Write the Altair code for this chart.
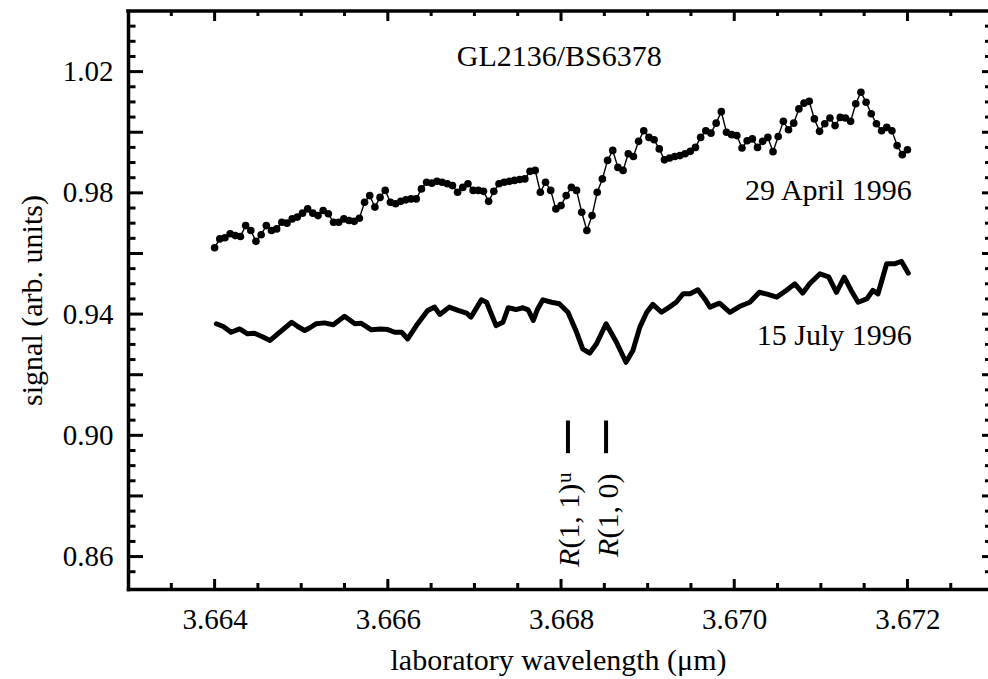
import altair as alt
import numpy as np
import pandas as pd

# ---------------- data ----------------
# 29 April 1996 (points joined by a thin line), evenly sampled 3.664 .. 3.672 um
april_signal = [
    0.9619, 0.9648, 0.9652, 0.9665, 0.9659, 0.9656, 0.9692, 0.9676, 0.9640, 0.9662,
    0.9692, 0.9676, 0.9681, 0.9703, 0.9700, 0.9714, 0.9720, 0.9733, 0.9747, 0.9733,
    0.9725, 0.9742, 0.9731, 0.9703, 0.9703, 0.9714, 0.9709, 0.9706, 0.9716, 0.9769,
    0.9791, 0.9753, 0.9785, 0.9808, 0.9769,
    0.9764, 0.9772, 0.9777, 0.9780, 0.9780, 0.9813, 0.9835, 0.9832, 0.9838, 0.9835,
    0.9830, 0.9824, 0.9802, 0.9818, 0.9830, 0.9808, 0.9808, 0.9805, 0.9772, 0.9805,
    0.9830, 0.9835, 0.9838, 0.9841, 0.9844, 0.9846, 0.9871, 0.9874, 0.9802, 0.9835,
    0.9808, 0.9747, 0.9758, 0.9791, 0.9818, 0.9808, 0.9736, 0.9676, 0.9725, 0.9802,
    0.9846, 0.9907, 0.9940,
    0.9884, 0.9874, 0.9929, 0.9920, 0.9970, 1.0005, 0.9983, 0.9975, 0.9945, 0.9909,
    0.9915, 0.9920, 0.9923, 0.9929, 0.9937, 0.9950, 0.9983, 1.0005, 0.9997, 1.0030,
    1.0068, 1.0000, 0.9992, 0.9989, 0.9948, 0.9972, 0.9978, 0.9950, 0.9970, 0.9983,
    0.9936, 0.9986, 1.0036, 1.0008, 1.0030, 1.0077, 1.0096, 1.0102, 1.0044, 1.0003,
    1.0028, 1.0047, 1.0022, 1.0049,
    1.0047, 1.0036, 1.0094, 1.0132, 1.0099, 1.0061, 1.0028, 1.0005, 1.0016, 1.0005,
    0.9956, 0.9926, 0.9942,
]
april_start, april_end = 3.664, 3.672
april_wavelength = np.linspace(april_start, april_end, len(april_signal))

# 15 July 1996 (thick line)
july_wavelength = [
    3.66402, 3.66410, 3.66419, 3.66429, 3.66438, 3.66446, 3.66454, 3.66464, 3.66475, 3.66489,
    3.66496, 3.66504, 3.66510, 3.66517, 3.66527, 3.66537, 3.66550, 3.66562, 3.66569, 3.66581,
    3.66592, 3.66600, 3.66608, 3.66616, 3.66623, 3.66633, 3.66646, 3.66654, 3.66660, 3.66671,
    3.66681, 3.66691, 3.66696, 3.66708, 3.66714, 3.66725, 3.66733, 3.66739, 3.66748, 3.66756,
    3.66762, 3.66768, 3.66773, 3.66779, 3.66789, 3.66798, 3.66808, 3.66818, 3.66825, 3.66833,
    3.66841, 3.66852, 3.66864, 3.66875, 3.66883, 3.66891, 3.66899, 3.66906, 3.66916, 3.66925,
    3.66933, 3.66941, 3.66949, 3.66958, 3.66966, 3.66972, 3.66983, 3.66995, 3.67006, 3.67018,
    3.67029, 3.67039, 3.67049, 3.67060, 3.67070, 3.67079, 3.67087, 3.67099, 3.67109, 3.67118,
    3.67127, 3.67135, 3.67143, 3.67153, 3.67160, 3.67166, 3.67176, 3.67185, 3.67193, 3.67201,
]
july_signal = [
    0.9368, 0.9359, 0.9340, 0.9351, 0.9335, 0.9337, 0.9327, 0.9313, 0.9340, 0.9373,
    0.9359, 0.9346, 0.9355, 0.9368, 0.9371, 0.9365, 0.9393, 0.9368, 0.9370, 0.9348,
    0.9351, 0.9349, 0.9340, 0.9340, 0.9318, 0.9362, 0.9412, 0.9423, 0.9399, 0.9423,
    0.9412, 0.9403, 0.9390, 0.9447, 0.9439, 0.9362, 0.9373, 0.9421, 0.9415, 0.9421,
    0.9414, 0.9379, 0.9417, 0.9447, 0.9439, 0.9434, 0.9406, 0.9340, 0.9285, 0.9271,
    0.9302, 0.9368, 0.9307, 0.9241, 0.9280, 0.9357, 0.9406, 0.9432, 0.9406, 0.9423,
    0.9439, 0.9467, 0.9467, 0.9480, 0.9450, 0.9423, 0.9436, 0.9406, 0.9425, 0.9439,
    0.9472, 0.9465, 0.9456, 0.9478, 0.9500, 0.9469, 0.9500, 0.9533, 0.9523, 0.9472,
    0.9522, 0.9478, 0.9439, 0.9450, 0.9478, 0.9467, 0.9566, 0.9566, 0.9574, 0.9535,
]

# axes
x_domain = [3.663, 3.67293]
y_domain = [0.8493, 1.04]
x_label_values = [3.664, 3.666, 3.668, 3.670, 3.672]
y_label_values = [0.86, 0.90, 0.94, 0.98, 1.02]
x_major_ticks = [3.664, 3.666, 3.668, 3.670, 3.672]
x_minor_ticks = [3.6635, 3.6645, 3.665, 3.6655, 3.6665, 3.667, 3.6675, 3.6685,
                 3.669, 3.6695, 3.6705, 3.671, 3.6715, 3.6725]
y_major_ticks = [0.86, 0.88, 0.90, 0.92, 0.94, 0.96, 0.98, 1.00, 1.02]
y_minor_ticks = [0.855, 0.865, 0.87, 0.875, 0.885, 0.89, 0.895, 0.905, 0.91, 0.915,
                 0.925, 0.93, 0.935, 0.945, 0.95, 0.955, 0.965, 0.97, 0.975, 0.985,
                 0.99, 0.995, 1.005, 1.01, 1.015, 1.025, 1.03, 1.035]

# annotations
title_text = ["GL2136/BS6378"]
title_x = [3.66798]
title_y = [1.0247]
date_texts = ["29 April 1996", "15 July 1996"]
date_x = [3.67205, 3.67205]
date_y = [0.9805, 0.9329]

line_marker_x = [3.66808, 3.66852]
line_marker_top = [0.9049, 0.9049]
line_marker_bottom = [0.8941, 0.8941]
line_label_y = [0.85652, 0.85982]

# ---------------- chart ----------------
FONT = "Liberation Serif"
W, H = 860, 578
xs = alt.Scale(domain=x_domain, nice=False, zero=False)
ys = alt.Scale(domain=y_domain, nice=False, zero=False)

x_axis = alt.Axis(
    values=x_label_values, format=".3f", ticks=False, grid=False,
    domainWidth=3.5, domainColor="black", domainCap="square",
    labelFont=FONT, labelFontSize=29, labelColor="black", labelPadding=16,
    labelFlush=False,
    title="laboratory wavelength (μm)", titleFont=FONT, titleFontSize=30,
    titleFontWeight="normal", titleColor="black", titlePadding=11)
y_axis = alt.Axis(
    values=y_label_values, format=".2f", ticks=False, grid=False,
    domainWidth=3.5, domainColor="black", domainCap="square",
    labelFont=FONT, labelFontSize=29, labelColor="black", labelPadding=15,
    labelFlush=False,
    title="signal (arb. units)", titleFont=FONT, titleFontSize=30,
    titleFontWeight="normal", titleColor="black", titlePadding=15)


def X(field):
    return alt.X(field, type="quantitative", scale=xs, axis=x_axis)


def Y(field):
    return alt.Y(field, type="quantitative", scale=ys, axis=y_axis)


july_df = pd.DataFrame({"wl": july_wavelength, "s": july_signal})
april_df = pd.DataFrame({"wl": april_wavelength, "s": april_signal})

july = alt.Chart(july_df).mark_line(
    color="black", strokeWidth=5, strokeJoin="round", strokeCap="round"
).encode(x=X("wl"), y=Y("s"))

april_line = alt.Chart(april_df).mark_line(color="black", strokeWidth=1.4).encode(
    x=X("wl"), y=Y("s"))
april_pts = alt.Chart(april_df).mark_point(
    filled=True, color="black", shape="circle", size=58, opacity=1).encode(
    x=X("wl"), y=Y("s"))

# frame top line
top_line = alt.Chart(pd.DataFrame({"a": [0]})).mark_rule(
    color="black", strokeWidth=3.5, strokeCap="square").encode(
    x=alt.value(0), x2=alt.value(W), y=alt.value(0))


def xticks(vals, y0, y1):
    return alt.Chart(pd.DataFrame({"wl": vals})).mark_rule(
        color="black", strokeWidth=3).encode(
        x=X("wl"), y=alt.value(y0), y2=alt.value(y1))


def yticks(vals, x0, x1):
    return alt.Chart(pd.DataFrame({"s": vals})).mark_rule(
        color="black", strokeWidth=3).encode(
        y=Y("s"), x=alt.value(x0), x2=alt.value(x1))


ticks = [
    xticks(x_major_ticks, H, H - 10), xticks(x_minor_ticks, H, H - 6),
    xticks(x_major_ticks, 0, 10), xticks(x_minor_ticks, 0, 5),
    yticks(y_major_ticks, 0, 15), yticks(y_minor_ticks, 0, 7.5),
    yticks(y_major_ticks, W, W - 6), yticks(y_minor_ticks, W, W - 3),
]

title_df = pd.DataFrame({"wl": title_x, "s": title_y, "t": title_text})
title_mark = alt.Chart(title_df).mark_text(
    font=FONT, fontSize=30, color="black", align="center", baseline="middle").encode(
    x=X("wl"), y=Y("s"), text="t:N")

date_df = pd.DataFrame({"wl": date_x, "s": date_y, "t": date_texts})
date_mark = alt.Chart(date_df).mark_text(
    font=FONT, fontSize=30, color="black", align="right", baseline="middle").encode(
    x=X("wl"), y=Y("s"), text="t:N")

marker_df = pd.DataFrame({"wl": line_marker_x, "s": line_marker_top, "s2": line_marker_bottom})
markers = alt.Chart(marker_df).mark_rule(color="black", strokeWidth=4).encode(
    x=X("wl"), y=Y("s"), y2="s2:Q")

lab_df = pd.DataFrame({"wl": line_marker_x, "s": line_label_y,
                       "r": ["R", "R"], "p": ["(1, 1)", "(1, 0)"]})
sup_df = pd.DataFrame({"wl": line_marker_x[:1], "s": line_label_y[:1], "u": ["u"]})

lab_r = alt.Chart(lab_df).mark_text(
    font=FONT, fontSize=30, fontStyle="italic", color="black", angle=270,
    align="left", baseline="alphabetic", dy=11.5).encode(
    x=X("wl"), y=Y("s"), text="r:N")
lab_p = alt.Chart(lab_df).mark_text(
    font=FONT, fontSize=30, color="black", angle=270,
    align="left", baseline="alphabetic", dx=18.5, dy=11.5).encode(
    x=X("wl"), y=Y("s"), text="p:N")
lab_u = alt.Chart(sup_df).mark_text(
    font=FONT, fontSize=21, color="black", angle=270,
    align="left", baseline="alphabetic", dx=84, dy=3).encode(
    x=X("wl"), y=Y("s"), text="u:N")

chart = alt.layer(
    july, april_line, april_pts, top_line, *ticks,
    title_mark, date_mark, markers, lab_r, lab_p, lab_u,
).properties(
    width=W, height=H,
    autosize=alt.AutoSizeParams(type="none"),
    padding={"left": 128, "top": 11, "right": 0, "bottom": 90},
    background="white",
).configure_view(stroke=None)

chart.save("out.html", embed_options={"renderer": "svg", "actions": False})
